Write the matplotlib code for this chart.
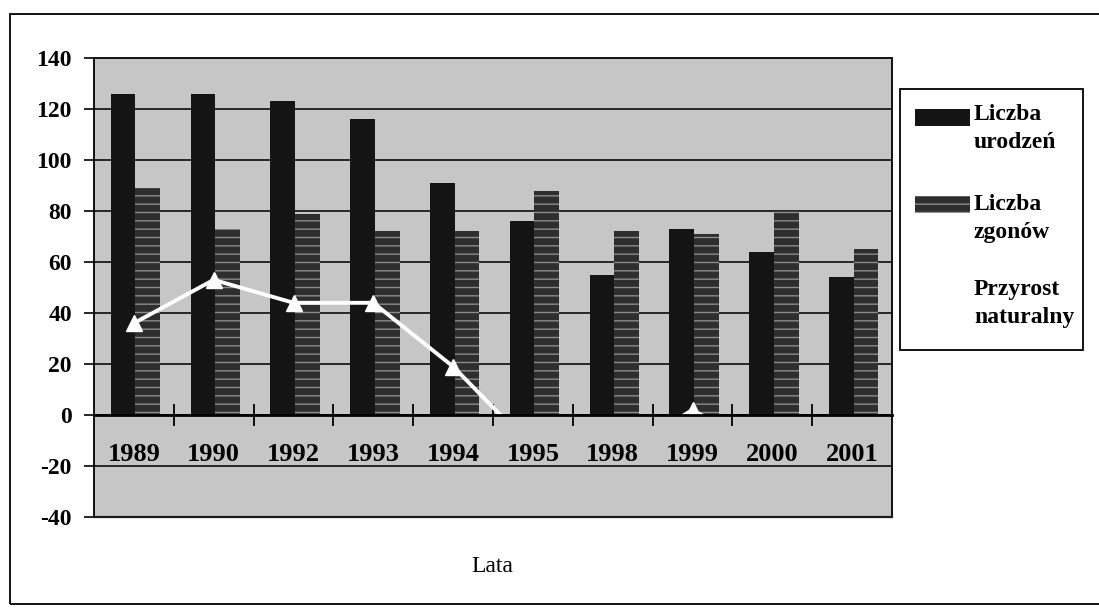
import matplotlib
matplotlib.use("Agg")
import matplotlib.pyplot as plt
import matplotlib.patches as mpatches
import numpy as np

years = ["1989", "1990", "1992", "1993", "1994", "1995", "1998", "1999", "2000", "2001"]
births = [126, 126, 123, 116, 91, 76, 55, 73, 64, 54]
deaths = [89, 73, 79, 72, 72, 88, 72, 71, 80, 65]
growth = [36, 53, 44, 44, 19, -13, -17, 2, -16, -11]
yticks = [-40, -20, 0, 20, 40, 60, 80, 100, 120, 140]
labels = ['Liczba\nurodzeń', 'Liczba\nzgonów', 'Przyrost\nnaturalny']

plt.rcParams['font.family'] = ['Liberation Serif', 'DejaVu Serif']
plt.rcParams['hatch.linewidth'] = 1.0
plt.rcParams['axes.unicode_minus'] = False

W, H = 1099, 608
fig = plt.figure(figsize=(W/100, H/100), dpi=100)
ax = fig.add_axes([94/W, 1-517/H, 798/W, (517-58)/H])
ax.set_facecolor('#c6c6c6')

BIRTH_C = '#141414'
DEATH_C = '#2e2e2e'
HATCH_C = '#8c8c8c'

x = np.arange(len(years))
w = 0.31
ax.bar(x - w/2 + 0.02, births, width=w, color=BIRTH_C, zorder=3)
ax.bar(x + w/2 + 0.02, deaths, width=w, facecolor=DEATH_C, edgecolor=HATCH_C, lw=0,
       hatch='--', zorder=3)

ln, = ax.plot(x, growth, color='white', lw=2.8, marker='^', ms=12, mfc='white', mec='white',
              zorder=4)
clip = mpatches.Rectangle((-1, 0), 20, 200, transform=ax.transData)
ln.set_clip_path(clip)

ax.set_xlim(-0.5, len(years) - 0.5)
ax.set_ylim(-40, 140)
ax.set_yticks(yticks)
ax.yaxis.grid(True, color='#1a1a1a', lw=1.3, zorder=1)
ax.set_axisbelow(True)
ax.tick_params(axis='y', length=7, width=1.2, labelsize=17, pad=9)
for t in ax.get_yticklabels():
    t.set_fontweight('bold')

ax.spines['bottom'].set_position(('data', 0))
ax.spines['bottom'].set_linewidth(2)
ax.spines['bottom'].set_zorder(5)
ax.set_xticks(np.arange(len(years) - 1) + 0.5)
ax.set_xticklabels([])
ax.set_xticks(x, minor=True)
ax.set_xticklabels(years, minor=True, fontsize=19, fontweight='bold')
ax.tick_params(axis='x', which='major', direction='inout', length=16, width=1.3)
ax.tick_params(axis='x', which='minor', length=0, pad=20)
ax.axhline(-40, color='#1a1a1a', lw=1.6, zorder=5, clip_on=False)
ax.axhline(140, color='#1a1a1a', lw=1.3, zorder=5, clip_on=False)
for s in ['left', 'right', 'top']:
    ax.spines[s].set_linewidth(1.3)

fig.text(492/W, 1-567/H, 'Lata', ha='center', va='center', fontsize=17)

# legend box (drawn in figure pixel coordinates)
def fx(px):
    return px / W

def fy(py):
    return 1 - py / H

fig.patches.append(mpatches.Rectangle((fx(900), fy(350)), (1083-900)/W, (350-89)/H,
                                      transform=fig.transFigure, fill=True, facecolor='white',
                                      edgecolor='black', lw=1.3))
fig.patches.append(mpatches.Rectangle((fx(915), fy(126)), 55/W, 17/H,
                                      transform=fig.transFigure, facecolor=BIRTH_C,
                                      edgecolor=BIRTH_C, lw=0))
fig.patches.append(mpatches.Rectangle((fx(915), fy(213)), 55/W, 17/H,
                                      transform=fig.transFigure, facecolor=DEATH_C,
                                      edgecolor=HATCH_C, lw=0, hatch='--'))
fig.add_artist(plt.Line2D([fx(915), fx(970)], [fy(293), fy(293)], color='white',
                          lw=2.8, transform=fig.transFigure))
for lab, ytop in zip(labels, [104, 194, 279]):
    fig.text(fx(974), fy(ytop), lab, ha='left', va='top', fontsize=17, fontweight='bold',
             linespacing=1.45)

# outer frame
fig.patches.append(mpatches.Rectangle((fx(10), fy(604)), (1110-10)/W, (604-14)/H,
                                      transform=fig.transFigure, fill=False,
                                      edgecolor='black', lw=1.3))

fig.savefig('out.png', dpi=100, facecolor='white')
